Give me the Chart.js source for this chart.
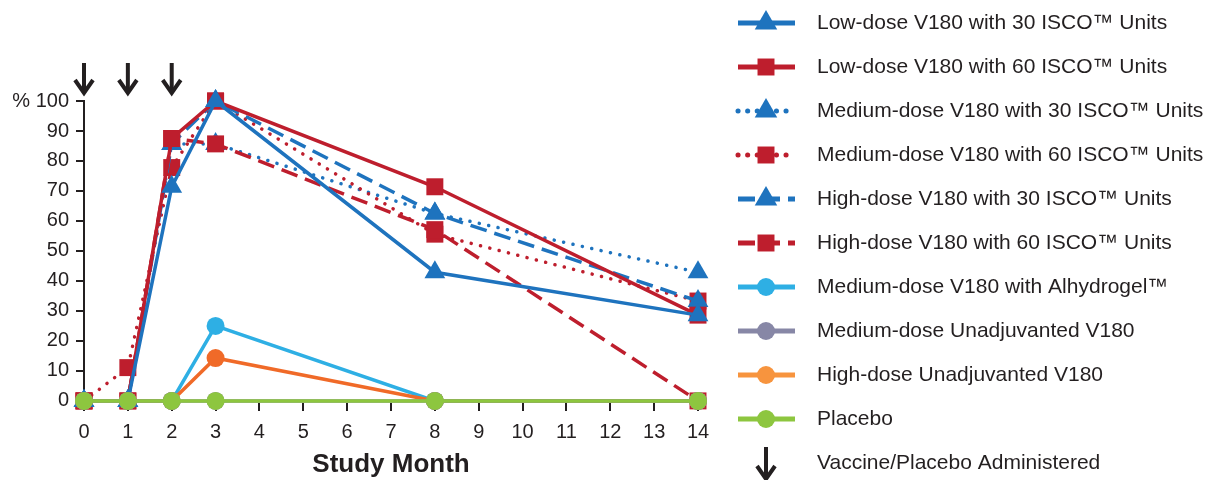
<!DOCTYPE html>
<html>
<head>
<meta charset="utf-8">
<script src="https://cdn.jsdelivr.net/npm/chart.js@4.4.1/dist/chart.umd.min.js"></script>
<style>
    html, body { margin: 0; padding: 0; background: #fff; }
    #wrap { width: 1218px; height: 480px; position: relative; }
</style>
</head>
<body>
<div id="wrap"><canvas id="chart"></canvas></div>
<script>
// meses del estudio (eje x) y marcas del eje y
const months = [0, 1, 2, 3, 8, 14];
const xTicks = [0, 1, 2, 3, 4, 5, 6, 7, 8, 9, 10, 11, 12, 13, 14];
const yTicks = [0, 10, 20, 30, 40, 50, 60, 70, 80, 90, 100];
const vaccineMonths = [0, 1, 2];

// porcentaje de respuesta por grupo
const low30 = [0, 0, 71.4, 100, 42.9, 28.6];
const low60 = [0, 0, 87.5, 100, 71.4, 28.6];
const med30 = [0, 0, 85.7, 85.7, 62.5, 42.9];
const med60 = [0, 11.1, 77.8, 100, 55.6, 33.3];
const high30 = [0, 0, 85.7, 100, 62.5, 33.3];
const high60 = [0, 0, 87.5, 85.7, 57.1, 0];
const medAlhy = [0, 0, 0, 25, 0, 0];
const medUnadj = [0, 0, 0, 0, 0, 0];
const highUnadj = [0, 0, 0, 14.3, 0, 0];
const placebo = [0, 0, 0, 0, 0, 0];

const BLUE = '#1e73be';
const RED = '#be1e2d';
const INK = '#231f20';
const FONT = '"Liberation Sans", Arial, sans-serif';

const DOT = [0.1, 9.5];
const DASH = [17, 8];

function series(label, values, color, style, dash, order, legendColor) {
    const r = style === 'triangle' ? 12 : (style === 'rect' ? 12 : 9);
    return {
        label,
        data: values.map((v, i) => ({ x: months[i], y: v })),
        borderColor: color,
        backgroundColor: color,
        pointBackgroundColor: color,
        pointBorderWidth: 0,
        pointStyle: style,
        pointRadius: r,
        pointHoverRadius: r,
        borderWidth: 3.5,
        borderDash: dash,
        borderCapStyle: dash === DOT ? 'round' : 'butt',
        tension: 0,
        clip: false,
        order,
        legendColor: legendColor || color
    };
}

// el orden más bajo se dibuja encima
const datasets = [
    series('Low-dose V180 with 30 ISCO\u2122 Units', low30, BLUE, 'triangle', [], 4),
    series('Low-dose V180 with 60 ISCO\u2122 Units', low60, RED, 'rect', [], 5),
    series('Medium-dose V180 with 30 ISCO\u2122 Units', med30, BLUE, 'triangle', DOT, 9),
    series('Medium-dose V180 with 60 ISCO\u2122 Units', med60, RED, 'rect', DOT, 8),
    series('High-dose V180 with 30 ISCO\u2122 Units', high30, BLUE, 'triangle', DASH, 7),
    series('High-dose V180 with 60 ISCO\u2122 Units', high60, RED, 'rect', DASH, 6),
    series('Medium-dose V180 with Alhydrogel\u2122', medAlhy, '#2eafe4', 'circle', [], 3),
    series('Medium-dose Unadjuvanted V180', medUnadj, '#8787a6', 'circle', [], 1),
    series('High-dose Unadjuvanted V180', highUnadj, '#f06a28', 'circle', [], 2, '#f7943e'),
    series('Placebo', placebo, '#8dc63f', 'circle', [], 0)
];

function drawArrow(ctx, x, top, bottom) {
    ctx.save();
    ctx.strokeStyle = INK;
    ctx.lineWidth = 4;
    ctx.lineCap = 'butt';
    ctx.lineJoin = 'miter';
    ctx.beginPath();
    ctx.moveTo(x, top);
    ctx.lineTo(x, bottom - 2);
    ctx.stroke();
    ctx.beginPath();
    ctx.moveTo(x - 9, bottom - 13);
    ctx.lineTo(x, bottom);
    ctx.lineTo(x + 9, bottom - 13);
    ctx.stroke();
    ctx.restore();
}

// flechas de vacunación y leyenda dibujada a mano
const extras = {
    id: 'extras',
    afterDatasetsDraw(chart) {
        const ctx = chart.ctx;
        const xs = chart.scales.x;
        for (const m of vaccineMonths) {
            drawArrow(ctx, xs.getPixelForValue(m), 63, 93);
        }
        const lx0 = 738, lx1 = 795, mx = 766, tx = 817;
        ctx.save();
        ctx.font = '21px ' + FONT;
        ctx.textBaseline = 'middle';
        ctx.textAlign = 'left';
        datasets.forEach((ds, i) => {
            const y = 23 + 44 * i;
            ctx.save();
            ctx.strokeStyle = ds.legendColor;
            ctx.fillStyle = ds.legendColor;
            ctx.lineWidth = 5;
            ctx.lineCap = ds.borderCapStyle === 'round' ? 'round' : 'butt';
            ctx.setLineDash(ds.borderDash);
            ctx.beginPath();
            ctx.moveTo(lx0, y);
            ctx.lineTo(lx1, y);
            ctx.stroke();
            ctx.setLineDash([]);
            Chart.helpers.drawPoint(ctx, {
                pointStyle: ds.pointStyle,
                radius: ds.pointStyle === 'triangle' ? 13 : ds.pointRadius,
                rotation: 0,
                borderWidth: 0
            }, mx, y);
            ctx.restore();
            ctx.fillStyle = INK;
            ctx.fillText(ds.label, tx, y);
        });
        const ay = 23 + 44 * datasets.length;
        drawArrow(ctx, mx, ay - 16, ay + 16);
        ctx.fillStyle = INK;
        ctx.fillText('Vaccine/Placebo Administered', tx, ay);
        ctx.restore();
    }
};

new Chart(document.getElementById('chart'), {
    type: 'line',
    data: { datasets },
    options: {
        responsive: true,
        maintainAspectRatio: false,
        animation: false,
        events: [],
        layout: {
            autoPadding: false,
            padding: { left: 0, top: 101, right: 520, bottom: 0 }
        },
        plugins: {
            legend: { display: false },
            tooltip: { enabled: false }
        },
        scales: {
            x: {
                type: 'linear',
                min: 0,
                max: 14,
                afterBuildTicks: (scale) => { scale.ticks = xTicks.map(v => ({ value: v })); },
                afterFit: (scale) => { scale.height = 77; },
                border: { display: false },
                grid: { drawOnChartArea: false, drawTicks: true, tickLength: 8, color: INK, lineWidth: 2 },
                ticks: { color: INK, font: { family: FONT, size: 20 }, padding: 9, maxRotation: 0 },
                title: {
                    display: true,
                    text: 'Study Month',
                    color: INK,
                    font: { family: FONT, size: 26, weight: 'bold' },
                    padding: { top: 0, bottom: 0 }
                }
            },
            y: {
                min: -0.7,
                max: 100,
                afterBuildTicks: (scale) => { scale.ticks = yTicks.map(v => ({ value: v })); },
                afterFit: (scale) => { scale.width = 84; },
                border: { display: true, color: INK, width: 2 },
                grid: { drawOnChartArea: false, drawTicks: true, tickLength: 8, color: INK, lineWidth: 2 },
                ticks: {
                    color: INK,
                    font: { family: FONT, size: 20 },
                    padding: 7,
                    callback: (v) => v === 100 ? '% 100' : v
                }
            }
        }
    },
    plugins: [extras]
});
</script>
</body>
</html>
